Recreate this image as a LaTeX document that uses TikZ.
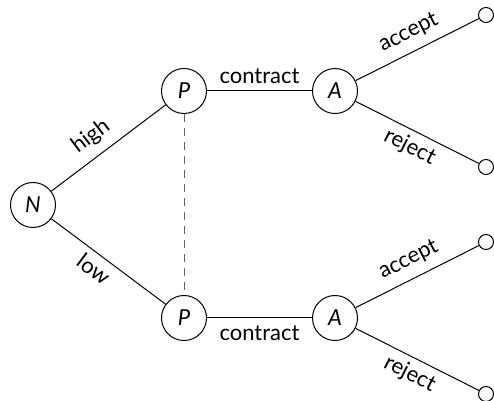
\documentclass[tikz,border=0pt]{standalone}
\usepackage{fontspec}
\setmainfont{Lato}
\begin{document}
\begin{tikzpicture}[x=0.5pt,y=-0.5pt,line width=0.5pt,
  font=\fontsize{11}{13}\selectfont,
  player/.style={circle,draw,minimum size=22.5pt,inner sep=0pt,font=\fontsize{11}{13}\selectfont\itshape},
  leaf/.style={circle,draw,minimum size=7.5pt,inner sep=0pt},
  up/.style={sloped,above,inner sep=4.5pt},
  down/.style={sloped,below,inner sep=3pt},
  info/.style={draw=black!60,dash pattern=on 4pt off 3pt}
]
\useasboundingbox (0,0) rectangle (494,401);
% decision nodes
\node[player] (N)  at (33,205)  {N};
\node[player] (P1) at (184,91)  {P};
\node[player] (P2) at (184,318) {P};
\node[player] (A1) at (335,91)  {A};
\node[player] (A2) at (335,318) {A};
% terminal nodes
\node[leaf] (T1) at (486,15)  {};
\node[leaf] (T2) at (486,167) {};
\node[leaf] (T3) at (486,242) {};
\node[leaf] (T4) at (486,394) {};
% moves
\draw (N) -- node[up,pos=0.45] {high} (P1);
\draw (N) -- node[down,pos=0.45] {low} (P2);
\draw (P1) -- node[up,inner sep=3.5pt] {contract} (A1);
\draw (P2) -- node[down,inner sep=3.5pt] {contract} (A2);
\draw (A1) -- node[up] {accept} (T1);
\draw (A1) -- node[down] {reject} (T2);
\draw (A2) -- node[up] {accept} (T3);
\draw (A2) -- node[down] {reject} (T4);
% information set
\draw[info] (P1) -- (P2);
\end{tikzpicture}
\end{document}
